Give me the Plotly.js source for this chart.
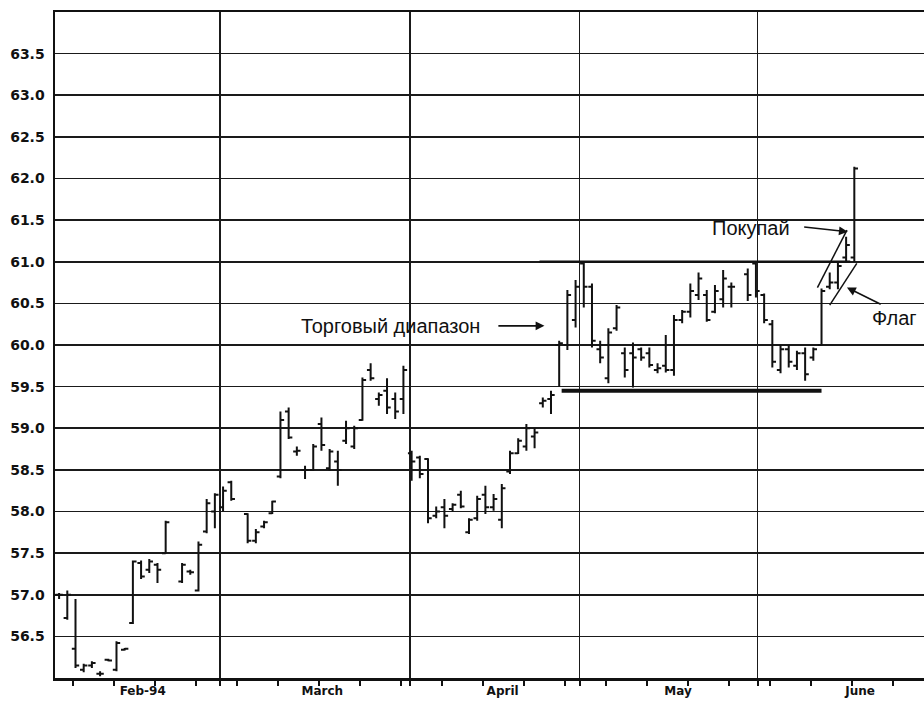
<!DOCTYPE html>
<html>
<head>
<meta charset="utf-8">
<script src="https://cdn.plot.ly/plotly-3.0.1.min.js"></script>
<style>
    html, body { margin: 0; padding: 0; background: #ffffff; }
    #chart { width: 924px; height: 704px; }
</style>
</head>
<body>
<div id="chart"></div>
<script>
// Daily bars, x = weekday slot counted from 1 Feb 1994
const days = [0, 1, 2, 3, 4, 5, 6, 7, 8, 9, 10, 11, 12, 13, 15, 16, 17, 18, 19,
    20, 21, 23, 24, 25, 26, 27, 28, 29, 30, 31, 32, 33, 34, 35, 36, 37, 38, 39, 40, 41, 42,
    43, 44, 45, 46, 47, 48, 49, 50, 51, 52, 53, 54, 55, 56, 57, 58, 59, 60, 61, 62, 63,
    64, 65, 66, 67, 68, 69, 70, 71, 72, 73, 74, 75, 76, 77, 78, 79, 80, 81, 82, 84, 85,
    86, 87, 88, 89, 90, 91, 92, 93, 94, 95, 96, 97];
const openP = [57.0, 56.72, 56.35, 56.1, 56.15, 56.05, 56.22, 56.1, 56.34, 56.66, 57.38, 57.3, 57.36, 57.5, 57.16, 57.28, 57.05, 57.76, 58.0,
    58.05, 58.35, 57.97, 57.65, 57.82, 57.98, 58.42, 59.2, 58.72, 58.5, 58.5, 59.05, 58.52, 58.6, 58.85, 58.78, 59.1, 59.7, 59.35, 59.45, 59.35, 59.35,
    58.7, 58.65, 58.63, 57.95, 58.05, 58.03, 58.2, 57.75, 57.92, 58.2, 58.05, 57.9, 58.48, 58.7, 58.78, 58.9, 59.3, 59.35, 60.0, 60.0, 60.3,
    60.98, 60.7, 59.95, 59.6, 60.2, 59.9, 59.9, 59.95, 59.9, 59.7, 59.75, 59.7, 60.3, 60.4, 60.6, 60.6, 60.4, 60.55, 60.7, 60.85, 60.98,
    60.6, 60.25, 59.7, 59.95, 59.75, 59.9, 59.85, 60.0, 60.7, 60.75, 61.05, 61.05];
const highP = [57.02, 57.05, 56.95, 56.17, 56.2, 56.08, 56.23, 56.44, 56.36, 57.41, 57.41, 57.43, 57.38, 57.89, 57.38, 57.3, 57.64, 58.15, 58.22,
    58.3, 58.37, 57.98, 57.79, 57.89, 58.13, 59.2, 59.25, 58.78, 58.55, 58.81, 59.13, 58.75, 58.73, 59.09, 59.03, 59.61, 59.78, 59.43, 59.6, 59.43, 59.75,
    58.73, 58.67, 58.64, 58.06, 58.15, 58.1, 58.25, 57.92, 58.19, 58.31, 58.21, 58.33, 58.73, 58.88, 59.05, 59.0, 59.37, 59.45, 60.05, 60.66, 60.78,
    61.0, 60.74, 60.05, 60.2, 60.48, 59.97, 60.03, 59.97, 59.97, 59.78, 60.12, 60.36, 60.42, 60.74, 60.87, 60.66, 60.72, 60.9, 60.75, 60.92, 61.0,
    60.62, 60.3, 60.0, 60.0, 59.93, 59.97, 59.97, 60.68, 60.87, 61.0, 61.3, 62.14];
const lowP = [56.95, 56.7, 56.12, 56.07, 56.12, 56.02, 56.2, 56.08, 56.33, 56.65, 57.19, 57.26, 57.14, 57.5, 57.14, 57.24, 57.04, 57.74, 57.8,
    58.0, 58.13, 57.62, 57.62, 57.8, 57.97, 58.4, 58.87, 58.67, 58.39, 58.49, 58.73, 58.49, 58.31, 58.81, 58.75, 59.09, 59.57, 59.27, 59.17, 59.11, 59.17,
    58.37, 58.4, 57.86, 57.92, 57.8, 58.0, 58.04, 57.73, 57.89, 57.97, 58.01, 57.8, 58.45, 58.69, 58.73, 58.76, 59.25, 59.17, 59.5, 59.94, 60.21,
    60.45, 59.97, 59.78, 59.54, 60.17, 59.61, 59.49, 59.81, 59.73, 59.66, 59.67, 59.63, 60.26, 60.33, 60.54, 60.28, 60.38, 60.45, 60.45, 60.53, 60.57,
    60.26, 59.73, 59.66, 59.73, 59.7, 59.57, 59.81, 60.0, 60.67, 60.67, 61.0, 61.0];
const closeP = [57.0, 57.0, 56.15, 56.15, 56.18, 56.05, 56.21, 56.42, 56.35, 57.4, 57.22, 57.4, 57.3, 57.87, 57.36, 57.27, 57.6, 58.1, 58.2,
    58.25, 58.15, 57.65, 57.75, 57.87, 58.12, 59.1, 58.89, 58.73, 58.5, 58.78, 58.8, 58.72, 58.5, 59.0, 59.0, 59.58, 59.6, 59.4, 59.25, 59.2, 59.7,
    58.6, 58.45, 57.92, 58.0, 57.95, 58.08, 58.06, 57.9, 58.15, 58.05, 58.15, 58.28, 58.7, 58.85, 59.0, 58.95, 59.33, 59.4, 60.02, 60.6, 60.7,
    60.7, 60.05, 59.85, 60.15, 60.45, 59.7, 59.85, 59.85, 59.76, 59.72, 59.7, 60.3, 60.4, 60.65, 60.8, 60.3, 60.65, 60.8, 60.7, 60.6, 60.65,
    60.3, 59.8, 59.95, 59.8, 59.9, 59.65, 59.95, 60.65, 60.75, 60.95, 61.2, 62.12];

// Axis marks
const monthBounds = [19.6, 42.8, 63.5, 85.2];
const monthLabelPos = [10.2, 32.1, 54.1, 75.5, 97.7];
const monthLabels = ['Feb-94', 'March', 'April', 'May', 'June'];
const priceTicks = [56.5, 57.0, 57.5, 58.0, 58.5, 59.0, 59.5, 60.0, 60.5, 61.0, 61.5, 62.0, 62.5, 63.0, 63.5];

// Pattern lines drawn over the bars: [x0, y0, x1, y1]
const rangeBottom = [61.3, 59.45, 93.0, 59.45];
const rangeTop = [58.6, 61.0, 96.5, 61.0];
const flagUpper = [92.5, 60.69, 96.1, 61.38];
const flagLower = [94.0, 60.48, 97.3, 60.98];

// Notes: text, text x/y, arrow tail x/y, arrow head x/y
const notes = [
    { text: 'Торговый диапазон', tx: 40.4, ty: 60.23, ax: 53.4, ay: 60.23, hx: 59.2, hy: 60.23 },
    { text: 'Покупай', tx: 84.4, ty: 61.40, ax: 90.7, ay: 61.42, hx: 96.2, hy: 61.36 },
    { text: 'Флаг', tx: 101.9, ty: 60.32, ax: 100.4, ay: 60.48, hx: 96.1, hy: 60.69 }
];

const ink = '#111111';
const xRange = [-0.5, 105.5];

const traces = [
    {
        type: 'ohlc',
        x: days,
        open: openP,
        high: highP,
        low: lowP,
        close: closeP,
        increasing: { line: { color: ink, width: 2 } },
        decreasing: { line: { color: ink, width: 2 } },
        tickwidth: 0.45,
        hoverinfo: 'skip',
        showlegend: false
    },
    {
        // carries the month labels axis
        type: 'scatter',
        x: [],
        y: [],
        xaxis: 'x2',
        yaxis: 'y',
        hoverinfo: 'skip',
        showlegend: false
    }
];

function segment(p, width) {
    return {
        type: 'line', xref: 'x', yref: 'y',
        x0: p[0], y0: p[1], x1: p[2], y1: p[3],
        line: { color: ink, width: width }
    };
}

const annotations = [];
notes.forEach(n => {
    annotations.push({
        x: n.tx, y: n.ty, xref: 'x', yref: 'y',
        text: n.text, showarrow: false,
        font: { family: 'Liberation Sans, Arial, sans-serif', size: 20, color: ink },
        xanchor: 'center', yanchor: 'middle'
    });
    annotations.push({
        x: n.hx, y: n.hy, xref: 'x', yref: 'y',
        ax: n.ax, ay: n.ay, axref: 'x', ayref: 'y',
        text: '', showarrow: true,
        arrowhead: 2, arrowsize: 1.1, arrowwidth: 1.6, arrowcolor: ink
    });
});

const layout = {
    width: 924,
    height: 704,
    margin: { l: 55, r: 0, t: 12, b: 26 },
    paper_bgcolor: '#ffffff',
    plot_bgcolor: '#ffffff',
    showlegend: false,
    xaxis: {
        range: xRange,
        rangeslider: { visible: false },
        tickmode: 'array',
        tickvals: monthBounds,
        ticktext: monthBounds.map(() => ''),
        ticks: 'outside',
        ticklen: 5,
        tickcolor: ink,
        tickwidth: 2,
        showgrid: true,
        gridcolor: '#1a1a1a',
        gridwidth: 1.6,
        showline: true,
        linecolor: ink,
        linewidth: 2.5,
        mirror: true,
        zeroline: false,
        fixedrange: true,
        minor: {
            tick0: 1.7,
            dtick: 5,
            ticks: 'outside',
            ticklen: 5,
            tickcolor: ink,
            tickwidth: 1.5,
            showgrid: false
        }
    },
    xaxis2: {
        overlaying: 'x',
        matches: 'x',
        range: xRange,
        anchor: 'y',
        side: 'bottom',
        tickmode: 'array',
        tickvals: monthLabelPos,
        ticktext: monthLabels,
        ticks: '',
        ticklabelstandoff: 4,
        tickfont: { family: 'DejaVu Sans', size: 12, color: ink, weight: 'bold' },
        showgrid: false,
        showline: false,
        zeroline: false,
        fixedrange: true
    },
    yaxis: {
        range: [56, 64],
        tickmode: 'array',
        tickvals: priceTicks,
        tickformat: '.1f',
        ticks: '',
        ticklabelstandoff: 5,
        tickfont: { family: 'DejaVu Sans', size: 14, color: ink, weight: 'bold' },
        showgrid: true,
        gridcolor: '#1a1a1a',
        gridwidth: 1.6,
        showline: true,
        linecolor: ink,
        linewidth: 2.5,
        zeroline: false,
        fixedrange: true
    },
    shapes: [
        segment(rangeBottom, 4),
        segment(rangeTop, 2.5),
        segment(flagUpper, 1.5),
        segment(flagLower, 1.5)
    ],
    annotations: annotations
};

Plotly.newPlot('chart', traces, layout, { displayModeBar: false, staticPlot: true });
</script>
</body>
</html>
